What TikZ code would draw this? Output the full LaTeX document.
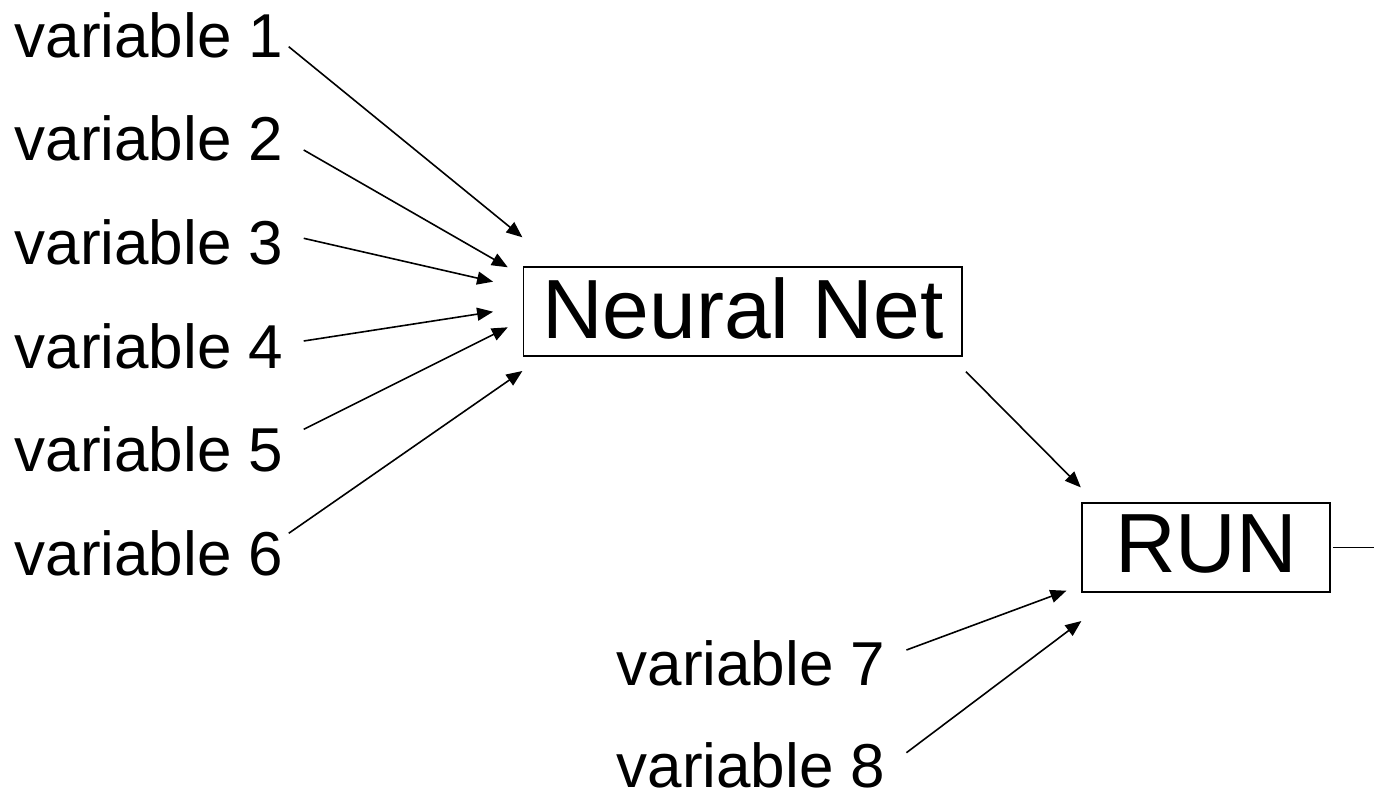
\documentclass[tikz,border=0pt]{standalone}
\usepackage{fontspec}
\setmainfont{Liberation Sans}
\usetikzlibrary{arrows.meta}
\begin{document}
\begin{tikzpicture}[x=1pt,y=-1pt,
  varlabel/.style={anchor=base west, inner sep=0pt, font=\fontsize{62}{74}\selectfont},
  boxnode/.style={draw, line width=1.8pt, inner sep=0pt, text depth=7.5pt, font=\fontsize{84}{100}\selectfont},
  arr/.style={line width=1.6pt, -{Triangle[length=16pt,width=13pt]}},
  plain/.style={line width=1.6pt}]
\useasboundingbox (0,0) rectangle (1374,792);
% labels
\node[varlabel] (v1) at (14.4,57.3) {variable 1};
\node[varlabel] (v2) at (14.4,160.9) {variable 2};
\node[varlabel] (v3) at (14.4,264.5) {variable 3};
\node[varlabel] (v4) at (14.4,368.1) {variable 4};
\node[varlabel] (v5) at (14.4,471.7) {variable 5};
\node[varlabel] (v6) at (14.4,575.3) {variable 6};
\node[varlabel] (v7) at (616.4,685) {variable 7};
\node[varlabel] (v8) at (616.4,787.5) {variable 8};
% boxes
\node[boxnode, minimum width=438.5pt, minimum height=88.4pt] (nn) at (742.75,311.5) {Neural Net};
\node[boxnode, minimum width=248pt, minimum height=89pt] (run) at (1206,547.5) {RUN};
\coordinate (out) at (1374,547.5);
% connectors
\draw[arr] ([shift={(5.1,-10.6)}]v1.base east) -- ([shift={(-0.2,-74.2)}]nn.west);
\draw[arr] ([shift={(20.1,-10.9)}]v2.base east) -- ([shift={(-14.8,-44.2)}]nn.west);
\draw[arr] ([shift={(20.1,-26.2)}]v3.base east) -- ([shift={(-29.5,-29.8)}]nn.west);
\draw[arr] ([shift={(20.1,-27.1)}]v4.base east) -- ([shift={(-29.5,0.2)}]nn.west);
\draw[arr] ([shift={(20.1,-42.4)}]v5.base east) -- ([shift={(-14.8,15.8)}]nn.west);
\draw[arr] ([shift={(5.1,-42)}]v6.base east) -- ([shift={(-0.2,59.5)}]nn.west);
\draw[arr] ([shift={(3,15)}]nn.south east) -- ([shift={(-0.3,-14.7)}]run.north west);
\draw[arr] ([shift={(20.8,-35)}]v7.base east) -- ([shift={(-14.7,43.2)}]run.west);
\draw[arr] ([shift={(20.8,-34.8)}]v8.base east) -- ([shift={(0.3,73.5)}]run.west);
\draw[plain] ([shift={(2,0)}]run.east) -- (out);
\end{tikzpicture}
\end{document}
